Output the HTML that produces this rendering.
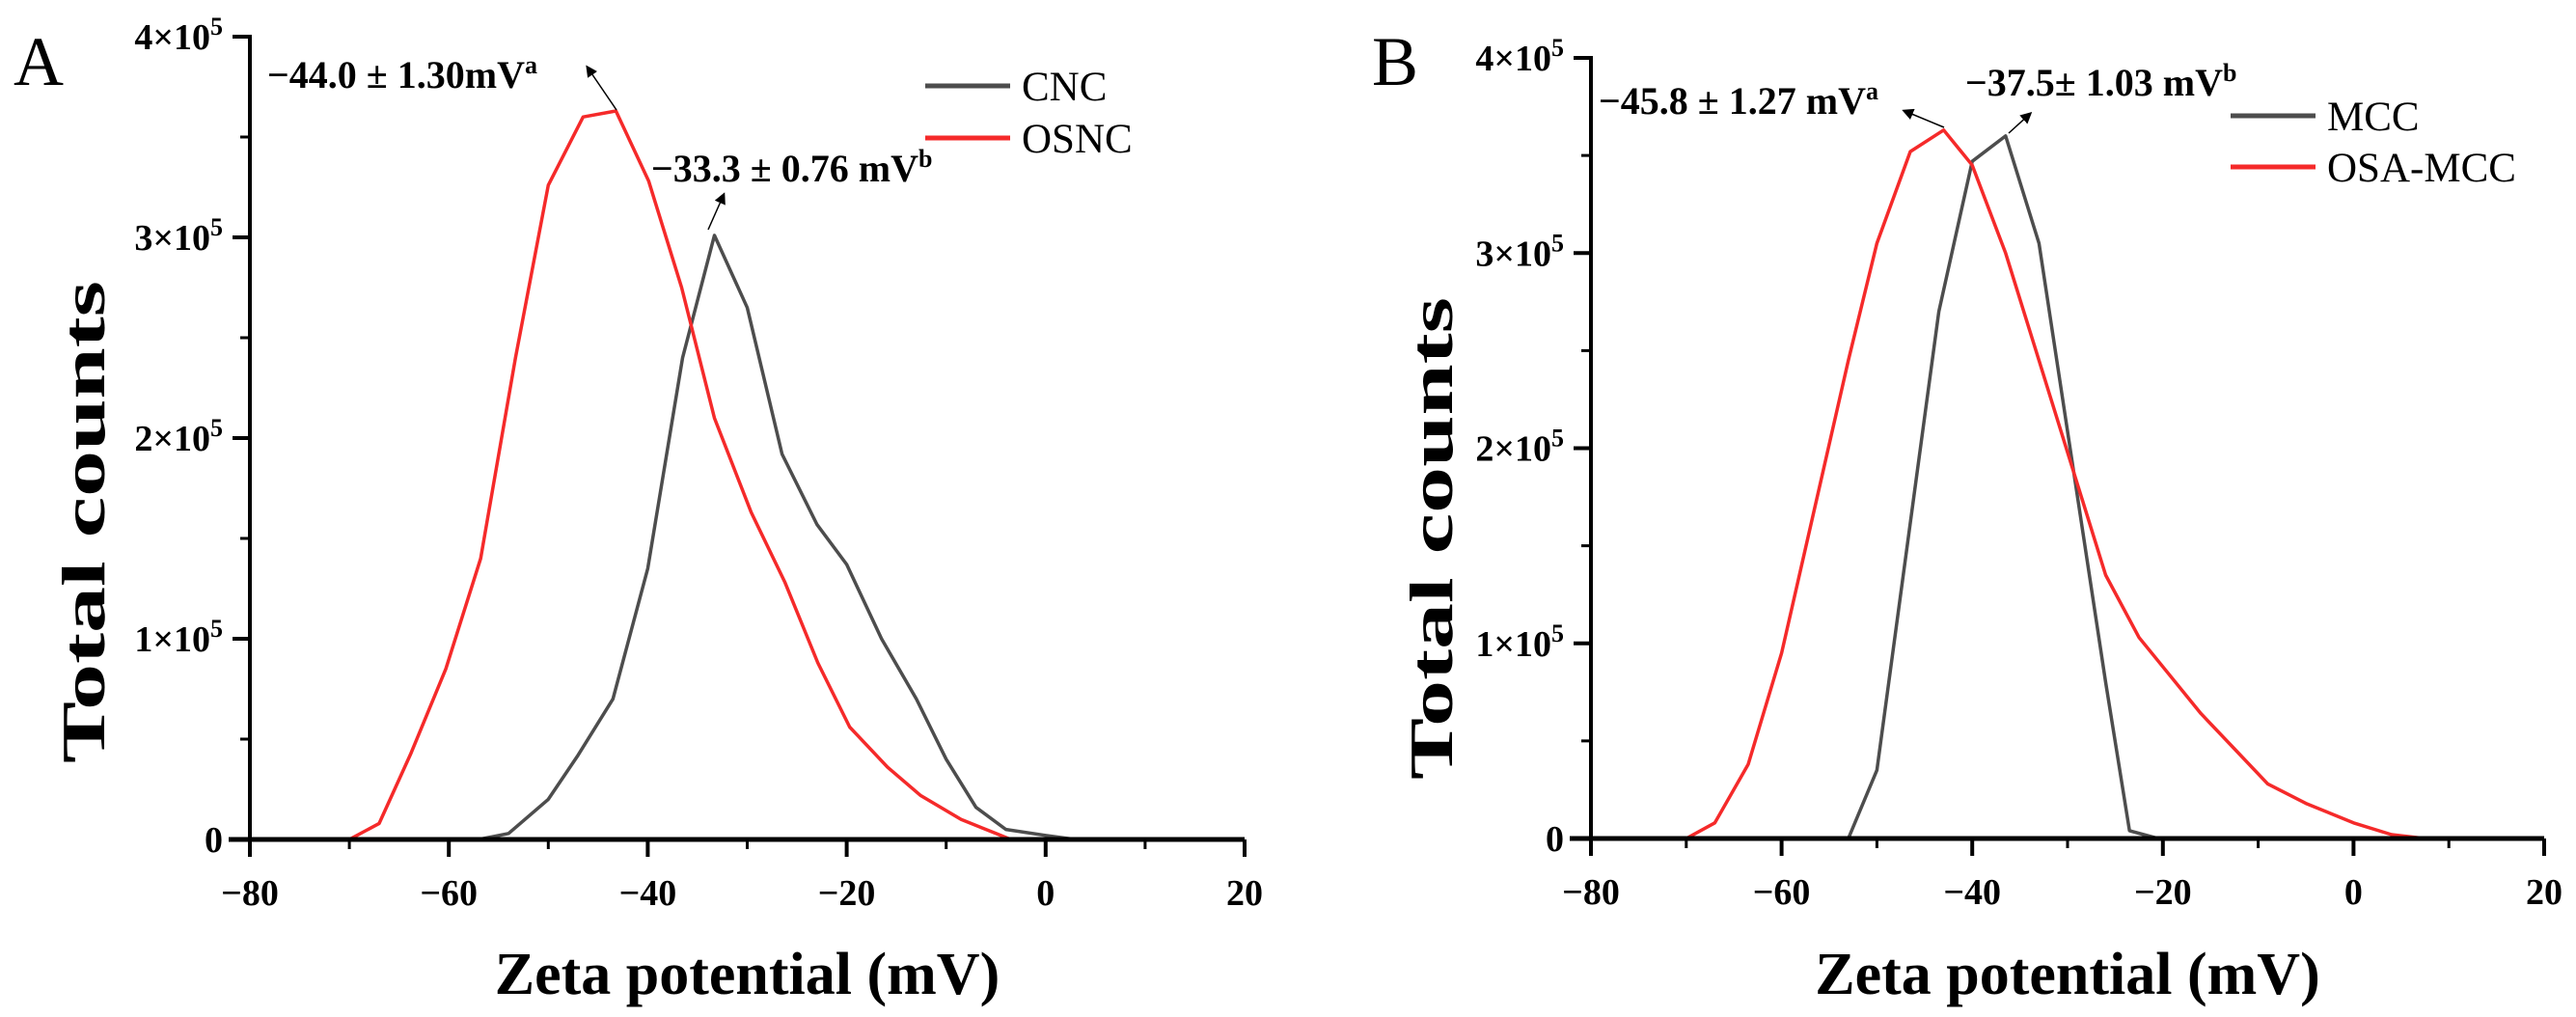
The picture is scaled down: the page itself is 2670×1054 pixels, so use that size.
<!DOCTYPE html>
<html><head><meta charset="utf-8"><style>
html,body{margin:0;padding:0;background:#fff}
svg{display:block}
text{font-family:"Liberation Serif",serif}
</style></head><body>
<svg id="fig" width="2670" height="1054" viewBox="0 0 2670 1054" xmlns="http://www.w3.org/2000/svg">
<defs><marker id="ah" markerWidth="8" markerHeight="8" refX="6" refY="4" orient="auto" markerUnits="strokeWidth"><path d="M0,0 L8,4 L0,8 z" fill="#000"/></marker></defs>
</svg>
<script>
// Panel A data
const aCncX = [-57,-54,-50,-47,-43.5,-40,-36.5,-33.3,-30,-26.5,-23,-20,-16.5,-13,-10,-7,-4,0,3];
const aCncY = [0,3000,20000,42000,70000,135000,240000,301000,265000,192000,157000,137000,100000,70000,40000,16000,5000,2000,0];
const aOsncX = [-70,-67,-63.8,-60.3,-56.8,-53.3,-50,-46.5,-43.2,-39.9,-36.6,-33.3,-29.6,-26.2,-22.9,-19.7,-15.9,-12.6,-8.5,-5,-3.5];
const aOsncY = [0,8000,43000,85000,140000,240000,326000,360000,363000,328000,275000,210000,163000,128000,88000,56000,36000,22000,10000,3000,0];
// Panel B data
const bMccX = [-53,-50,-43.5,-40,-36.5,-33,-26,-23.5,-20.5];
const bMccY = [0,35000,270000,347000,360000,305000,80000,4000,0];
const bOsaX = [-70,-67,-63.5,-60,-56.5,-53,-50,-46.5,-43,-40,-36.5,-33,-26,-22.5,-19,-16,-12.5,-9,-5,0,4,7.5];
const bOsaY = [0,8000,38000,95000,170000,245000,305000,352000,363000,345000,300000,245000,135000,103000,82000,64000,46000,28000,18000,8000,2000,0];
const xTicks = [-80,-60,-40,-20,0,20];
const yTicks = [0,100000,200000,300000,400000];
const yTickExp = ['0','1','2','3','4'];

const svg = document.getElementById('fig');
const NS = 'http://www.w3.org/2000/svg';
function mk(tag, attrs, parent){const e=document.createElementNS(NS,tag);for(const k in attrs)e.setAttribute(k,attrs[k]);(parent||svg).appendChild(e);return e;}

function panel(p){
  const g = mk('g',{});
  
  
  const sx = v => p.x0 + (v - (-80)) / 100 * (p.x1 - p.x0);
  const sy = v => p.y0 - v / 400000 * (p.y0 - p.y4);
  p.series.forEach(s=>{
    const pts = s.x.map((xv,i)=>sx(xv).toFixed(1)+','+sy(s.y[i]).toFixed(1)).join(' ');
    const l = mk('polyline',{points:pts,fill:'none',stroke:s.color,'stroke-width':3.5,'stroke-linejoin':'round'},g);
    
    
  });
  const xa = mk('line',{x1:p.x0-22,y1:p.y0,x2:p.x1,y2:p.y0,stroke:'#000','stroke-width':5},g);
  
  
  const ya = mk('line',{x1:p.x0,y1:p.y0+2,x2:p.x0,y2:p.y4-2,stroke:'#000','stroke-width':4},g);
  
  
  xTicks.forEach((t,i)=>{
    mk('line',{x1:sx(t),y1:p.y0,x2:sx(t),y2:p.y0+18,stroke:'#000','stroke-width':4},g);
    if(i<xTicks.length-1) mk('line',{x1:sx(t+10),y1:p.y0,x2:sx(t+10),y2:p.y0+10,stroke:'#000','stroke-width':3},g);
    const tx = mk('text',{x:sx(t),y:p.y0+68,'text-anchor':'middle','font-size':38,'font-weight':'bold'},g);
    tx.textContent = t<0 ? '\u2212'+Math.abs(t) : String(t);
    
    
  });
  yTicks.forEach((t,i)=>{
    mk('line',{x1:p.x0-18,y1:sy(t),x2:p.x0,y2:sy(t),stroke:'#000','stroke-width':4},g);
    if(i<yTicks.length-1) mk('line',{x1:p.x0-10,y1:sy(t+50000),x2:p.x0,y2:sy(t+50000),stroke:'#000','stroke-width':3},g);
    const ty = mk('text',{x:p.x0-28,y:sy(t)+13,'text-anchor':'end','font-size':38,'font-weight':'bold'},g);
    
    
    if(t===0){ty.textContent='0';}
    else{
      ty.textContent = yTickExp[i]+'\u00d710';
      const sup = mk('tspan',{dy:-15,'font-size':26},ty); sup.textContent='5';
    }
  });
  const xt = mk('text',{x:(p.x0+p.x1)/2,y:1030,'text-anchor':'middle','font-size':62,'font-weight':'bold'},g);
  xt.textContent='Zeta potential (mV)';
  
  
  const yt = mk('text',{x:0,y:0,'text-anchor':'middle','font-size':64,'font-weight':'bold',textLength:500,lengthAdjust:'spacingAndGlyphs',transform:`translate(${p.ytx},${p.yty}) rotate(-90)`},g);
  yt.textContent='Total counts';
  
  
  const pl = mk('text',{x:p.lx,y:88,'font-size':72},g);
  pl.textContent=p.letter;
  
  
  p.series.forEach((s,i)=>{
    const ly = p.legY[i];
    const ll = mk('line',{x1:p.legX,y1:ly,x2:p.legX+88,y2:ly,stroke:s.color,'stroke-width':5},g);
    
    
    const lt = mk('text',{x:p.legX+100,y:ly+15,'font-size':43},g);
    lt.textContent=s.name;
    
    
  });
  p.ann.forEach(a=>{
    const t = mk('text',{x:a.tx,y:a.ty,'font-size':40,'font-weight':'bold'},g);
    t.textContent=a.txt;
    const s = mk('tspan',{dy:-15,'font-size':26},t); s.textContent=a.sup;
    
    
    const ar = mk('line',{x1:a.ax1,y1:a.ay1,x2:a.ax2,y2:a.ay2,stroke:'#000','stroke-width':1.5,'marker-end':'url(#ah)'},g);
    
    
  });
}

panel({id:'a',letter:'A',lx:14,x0:259,x1:1290,y0:870,y4:38,ytx:108,yty:541,legX:959,legY:[89,143],
  series:[{name:'CNC',x:aCncX,y:aCncY,color:'#4d4d4d'},{name:'OSNC',x:aOsncX,y:aOsncY,color:'#f52a2a'}],
  ann:[{txt:'\u221244.0 \u00b1 1.30mV',sup:'a',tx:277,ty:91,ax1:639,ay1:114,ax2:609,ay2:70},
       {txt:'\u221233.3 \u00b1 0.76 mV',sup:'b',tx:675,ty:188,ax1:734,ay1:238,ax2:750,ay2:202}]});
panel({id:'b',letter:'B',lx:1422,x0:1649,x1:2637,y0:869,y4:60,ytx:1505,yty:558,legX:2312,legY:[120,173],
  series:[{name:'MCC',x:bMccX,y:bMccY,color:'#4d4d4d'},{name:'OSA-MCC',x:bOsaX,y:bOsaY,color:'#f52a2a'}],
  ann:[{txt:'\u221245.8 \u00b1 1.27 mV',sup:'a',tx:1657,ty:118,ax1:2015,ay1:132,ax2:1974,ay2:115},
       {txt:'\u221237.5\u00b1 1.03 mV',sup:'b',tx:2037,ty:99,ax1:2082,ay1:138,ax2:2104,ay2:118}]});
</script>
</body></html>
